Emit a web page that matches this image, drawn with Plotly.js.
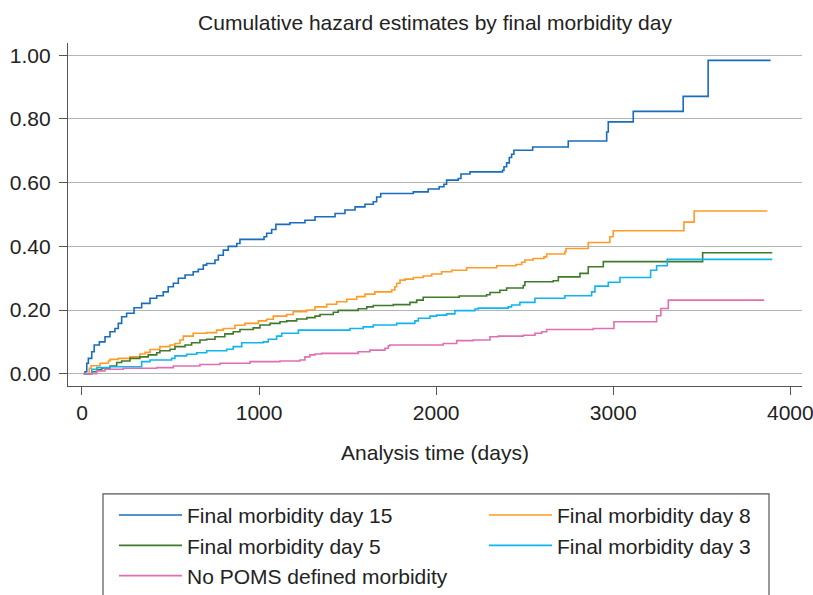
<!DOCTYPE html>
<html>
<head>
<meta charset="utf-8">
<script src="https://cdn.plot.ly/plotly-3.0.1.min.js"></script>
<style>html,body{margin:0;padding:0;background:#fff;}#chart{width:813px;height:595px;}</style>
</head>
<body>
<div id="chart"></div>
<script>
// ---- Data ----
const seriesNames = ["Final morbidity day 15", "Final morbidity day 8", "Final morbidity day 5", "Final morbidity day 3", "No POMS defined morbidity"];

const day15X = [10,17,27,36,55,69,98,130,158,186,205,224,252,294,337,384,422,459,487,516,544,582,628,657,685,704,751,770,798,826,874,892,1028,1043,1071,1095,1174,1259,1316,1429,1485,1542,1598,1645,1664,1687,1871,1955,2017,2044,2059,2125,2140,2191,2375,2383,2398,2413,2426,2439,2545,2746,2963,2972,3113,3395,3536,3889];
const day15Y = [0,0.006,0.033,0.048,0.069,0.09,0.10,0.116,0.132,0.142,0.158,0.179,0.19,0.207,0.221,0.237,0.245,0.257,0.273,0.284,0.30,0.31,0.32,0.328,0.341,0.346,0.357,0.372,0.388,0.40,0.409,0.422,0.43,0.441,0.453,0.469,0.474,0.482,0.493,0.503,0.514,0.524,0.532,0.54,0.555,0.566,0.571,0.58,0.587,0.595,0.608,0.613,0.627,0.634,0.639,0.65,0.662,0.679,0.689,0.702,0.712,0.731,0.759,0.791,0.824,0.871,0.984,0.984];

const day8X = [10,41,51,102,149,158,205,271,327,356,384,440,497,525,553,572,628,704,760,798,864,920,996,1043,1080,1156,1193,1269,1316,1382,1438,1495,1551,1598,1654,1749,1767,1777,1796,1824,1871,1927,1975,2031,2088,2172,2342,2451,2483,2501,2548,2609,2624,2727,2733,2859,2981,3000,3399,3457,3870];
const day8Y = [0,0.017,0.025,0.033,0.040,0.045,0.048,0.053,0.062,0.067,0.076,0.085,0.09,0.095,0.106,0.118,0.127,0.129,0.137,0.142,0.152,0.158,0.166,0.171,0.181,0.186,0.195,0.20,0.210,0.218,0.226,0.234,0.242,0.25,0.257,0.263,0.273,0.284,0.294,0.297,0.302,0.307,0.313,0.32,0.325,0.333,0.339,0.343,0.35,0.357,0.362,0.367,0.376,0.383,0.393,0.412,0.43,0.449,0.476,0.511,0.511];

const day5X = [10,55,83,111,158,196,224,271,327,374,422,440,497,525,582,619,666,704,751,807,854,892,967,1005,1062,1118,1156,1212,1270,1316,1344,1419,1447,1560,1608,1645,1758,1852,1890,1927,2130,2285,2304,2360,2398,2492,2501,2661,2690,2812,2859,2944,3505,3898];
const day5Y = [0,0.006,0.012,0.017,0.024,0.035,0.04,0.048,0.053,0.059,0.066,0.072,0.077,0.085,0.09,0.097,0.106,0.108,0.116,0.125,0.132,0.139,0.144,0.153,0.158,0.163,0.166,0.172,0.176,0.181,0.186,0.193,0.199,0.204,0.21,0.214,0.217,0.224,0.231,0.24,0.244,0.248,0.255,0.262,0.269,0.277,0.289,0.292,0.304,0.315,0.336,0.352,0.38,0.38];

const day3X = [10,55,83,158,337,384,506,525,591,648,704,817,854,902,1024,1052,1099,1128,1222,1513,1588,1645,1777,1880,1899,1965,2003,2059,2106,2219,2238,2407,2426,2473,2558,2727,2878,2897,2972,3038,3211,3245,3305,3898];
const day3Y = [0,0.014,0.019,0.022,0.038,0.043,0.048,0.056,0.061,0.066,0.072,0.077,0.085,0.097,0.10,0.108,0.118,0.127,0.137,0.142,0.147,0.153,0.158,0.166,0.174,0.181,0.184,0.188,0.198,0.203,0.206,0.210,0.216,0.224,0.237,0.245,0.257,0.275,0.287,0.302,0.325,0.339,0.359,0.359];

const noPomsX = [10,83,130,233,422,516,666,779,949,1118,1231,1259,1287,1316,1353,1560,1626,1711,1730,1739,2040,2116,2209,2304,2351,2492,2558,2596,2624,2887,3004,3245,3269,3311,3853];
const noPomsY = [0,0.009,0.014,0.017,0.019,0.024,0.029,0.033,0.038,0.040,0.043,0.053,0.059,0.062,0.064,0.069,0.074,0.08,0.088,0.09,0.095,0.104,0.106,0.116,0.118,0.121,0.127,0.132,0.139,0.142,0.163,0.182,0.205,0.231,0.231];

const xTickVals = [0, 1000, 2000, 3000, 4000];
const yTickVals = [0, 0.2, 0.4, 0.6, 0.8, 1.0];

// ---- Styling ----
const colors = ["#1a6cbc", "#ff9b26", "#3f7a2c", "#10b4ee", "#e06fb2"];
const FONT = "'Liberation Sans', Arial, Helvetica, sans-serif";
const TXT = "#222222";

const xs = [day15X, day8X, day5X, day3X, noPomsX];
const ys = [day15Y, day8Y, day5Y, day3Y, noPomsY];
const legendOf = ["legend", "legend2", "legend", "legend2", "legend"];

const traces = seriesNames.map((name, i) => ({
  type: "scatter",
  mode: "lines",
  name: name,
  x: xs[i],
  y: ys[i],
  line: {shape: "hv", color: colors[i], width: 1.6},
  legend: legendOf[i],
  hoverinfo: "skip"
}));

const legendCommon = {
  orientation: "v",
  yanchor: "top",
  xanchor: "left",
  bgcolor: "rgba(0,0,0,0)",
  borderwidth: 0,
  font: {family: FONT, size: 21, color: TXT},
  itemwidth: 63,
  traceorder: "normal"
};

const layout = {
  width: 813,
  height: 595,
  margin: {l: 68, r: 11, t: 43, b: 209, pad: 0, autoexpand: false},
  paper_bgcolor: "#ffffff",
  plot_bgcolor: "#ffffff",
  showlegend: true,
  title: {
    text: "Cumulative hazard estimates by final morbidity day",
    font: {family: FONT, size: 21, color: TXT},
    x: 0.5, xref: "paper", xanchor: "center",
    y: 1 - 23 / 595, yref: "container", yanchor: "middle"
  },
  xaxis: {
    range: [-79, 4066],
    tickvals: xTickVals,
    ticktext: xTickVals.map(String),
    ticks: "outside", ticklen: 8, tickwidth: 1, tickcolor: "#555555",
    ticklabeloverflow: "allow",
    showline: true, linecolor: "#555555", linewidth: 1.2,
    showgrid: false, zeroline: false,
    tickfont: {family: FONT, size: 21, color: TXT},
    title: {text: "Analysis time (days)", font: {family: FONT, size: 21, color: TXT}, standoff: 21},
    automargin: false,
    fixedrange: true
  },
  yaxis: {
    range: [-0.0386, 1.0386],
    tickvals: yTickVals,
    ticktext: yTickVals.map(v => v.toFixed(2)),
    ticks: "outside", ticklen: 8, tickwidth: 1, tickcolor: "#555555",
    ticklabelstandoff: 4,
    showline: true, linecolor: "#555555", linewidth: 1.2,
    showgrid: true, gridcolor: "#b4b4b4", gridwidth: 1,
    zeroline: false,
    tickfont: {family: FONT, size: 21, color: TXT},
    automargin: false,
    fixedrange: true
  },
  legend: Object.assign({}, legendCommon, {x: (114 - 68) / 734, y: (386 - 495) / 343.3}),
  legend2: Object.assign({}, legendCommon, {x: (484 - 68) / 734, y: (386 - 495) / 343.3}),
  shapes: [{
    type: "rect", xref: "paper", yref: "paper",
    x0: (103 - 68) / 734, x1: (769 - 68) / 734,
    y0: (386 - 494) / 343.3, y1: (386 - 640) / 343.3,
    line: {color: "#555555", width: 1.2}, fillcolor: "rgba(0,0,0,0)", layer: "above"
  }]
};

Plotly.newPlot("chart", traces, layout, {staticPlot: true, displayModeBar: false});
</script>
</body>
</html>
